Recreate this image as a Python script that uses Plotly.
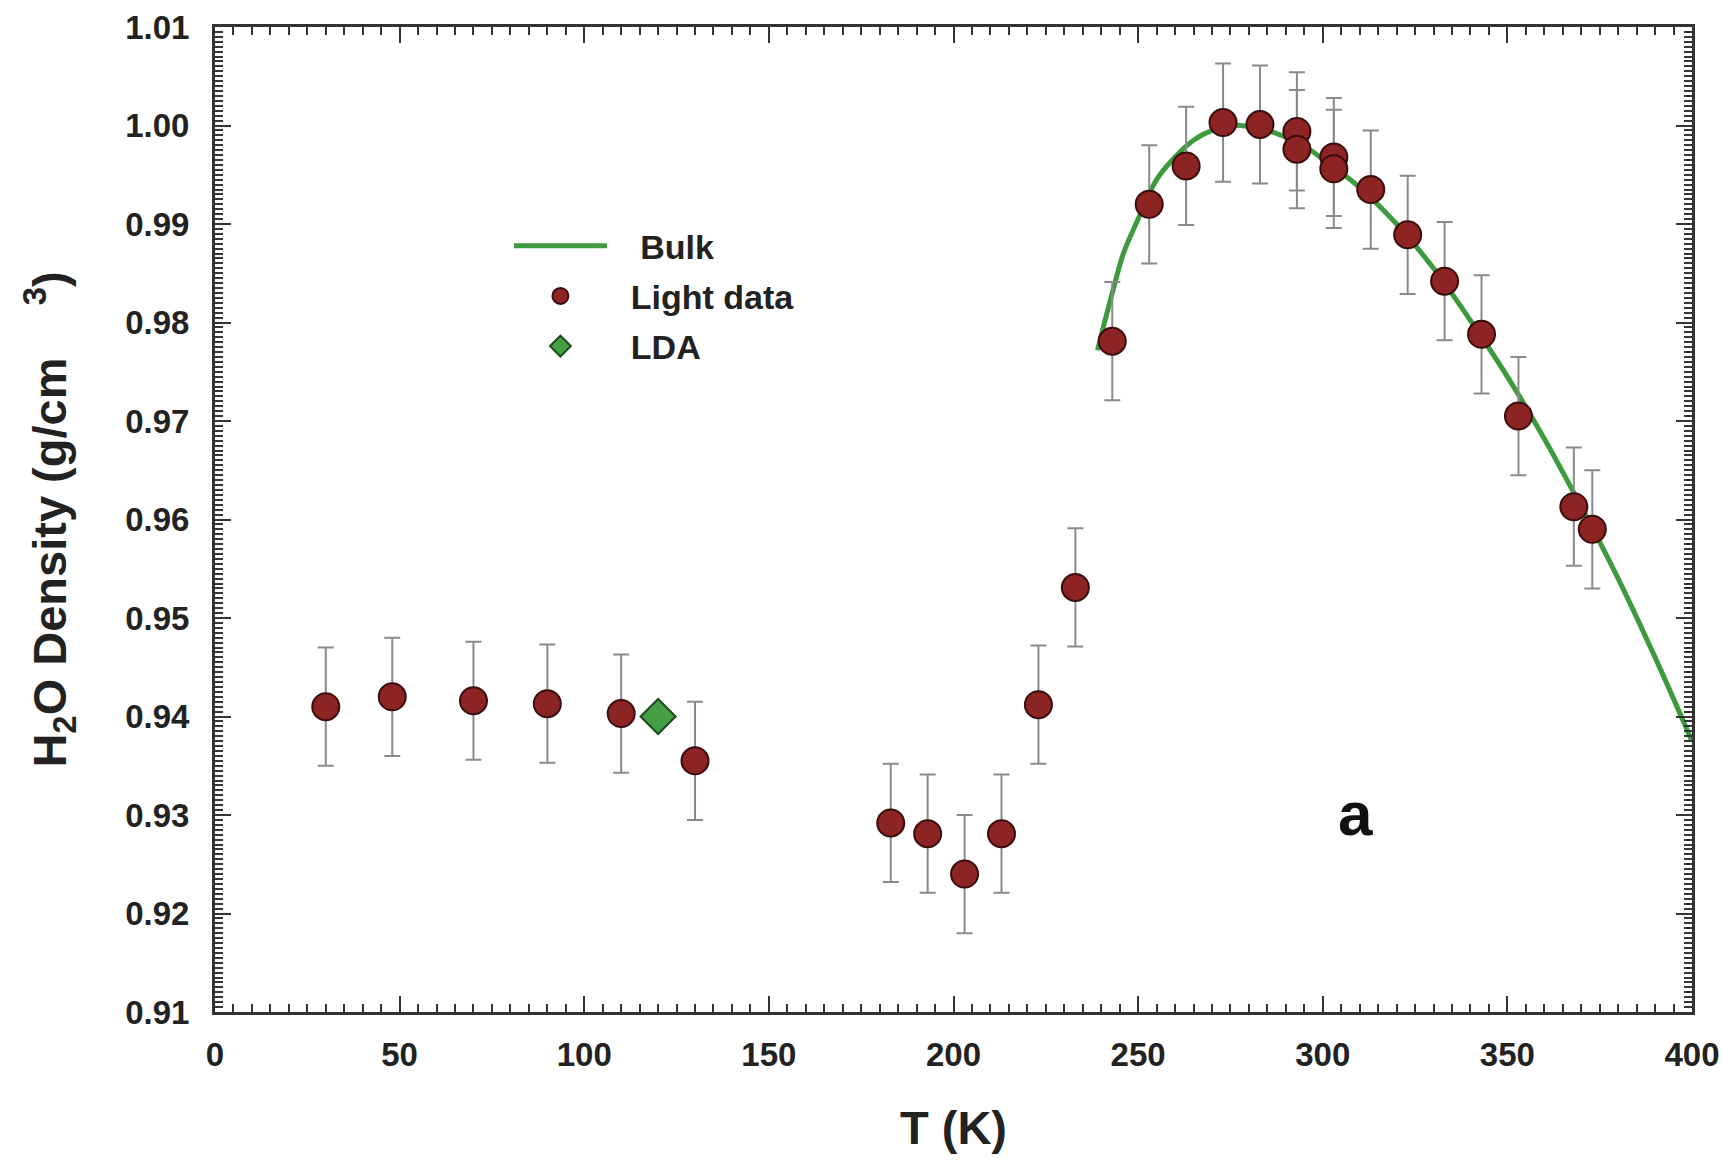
import plotly.graph_objects as go

# Light-scattering density of confined H2O versus temperature
T_light = [30, 48, 70, 90, 110, 130, 183, 193, 203, 213, 223, 233, 243, 253,
           263, 273, 283, 293, 293, 303, 303, 313, 323, 333, 343, 353, 368, 373]
rho_light = [0.9410, 0.9420, 0.9416, 0.9413, 0.9403, 0.9355, 0.9292, 0.9281,
             0.9240, 0.9281, 0.9412, 0.9531, 0.9781, 0.9920, 0.9959, 1.0003,
             1.0001, 0.9994, 0.9976, 0.9968, 0.9956, 0.9935, 0.9889, 0.9842,
             0.9788, 0.9705, 0.9613, 0.9590]
rho_err = [0.006] * len(T_light)

# Low-density amorphous ice
T_lda = [120]
rho_lda = [0.9400]

# Bulk water density curve
T_bulk = [239, 243, 246, 250, 255, 260, 265, 270, 275, 280, 285, 290, 295, 300,
          310, 320, 330, 340, 350, 360, 370, 380, 390, 400]
rho_bulk = [0.9772, 0.9830, 0.9870, 0.9905, 0.9945, 0.9968, 0.9985, 0.9995,
            1.0000, 0.9999, 0.9995, 0.9988, 0.9979, 0.9966, 0.9937, 0.9900,
            0.9855, 0.9802, 0.9745, 0.9682, 0.9613, 0.9540, 0.9460, 0.9375]

FONT = "Liberation Sans, Arial, sans-serif"
INK = "#222222"
NB = "\u00a0"

fig = go.Figure()

fig.add_trace(go.Scatter(
    x=T_bulk, y=rho_bulk, mode="lines", name=NB * 3 + "Bulk", legendgroup="a",
    line=dict(color="#3d9b3d", width=5, shape="spline"),
))

fig.add_trace(go.Scatter(
    x=T_light, y=rho_light, mode="markers", name=NB * 2 + "Light data", legendgroup="b",
    error_y=dict(type="data", array=rho_err, color="#8a8a8a", thickness=2, width=8),
    marker=dict(symbol="circle", size=27, color="#8c2424",
                line=dict(color="#3a0c0c", width=2)),
))

fig.add_trace(go.Scatter(
    x=T_lda, y=rho_lda, mode="markers", name=NB * 2 + "LDA", legendgroup="c",
    marker=dict(symbol="diamond", size=27, color="#45a045",
                line=dict(color="#1e4a1e", width=2)),
))

fig.add_annotation(
    x=309, y=0.9302, xref="x", yref="y", text="<b>a</b>", showarrow=False,
    font=dict(family=FONT, size=62, color="#111111"),
)

axis_common = dict(
    showline=True, linewidth=3, linecolor="#333333", mirror="ticks",
    ticks="inside", tickwidth=2, tickcolor="#333333", ticklen=16,
    showgrid=False, zeroline=False, automargin=False,
    tickfont=dict(family=FONT, size=33, color=INK, weight="bold"),
)

fig.update_xaxes(
    range=[0, 400], tick0=0, dtick=50, ticklabelstandoff=11,
    minor=dict(dtick=5, ticks="inside", ticklen=8, tickwidth=2, tickcolor="#333333"),
    title=dict(text="T (K)", standoff=40,
               font=dict(family=FONT, size=47, color=INK, weight="bold")),
    **axis_common,
)
fig.update_yaxes(
    range=[0.91, 1.01], tick0=0.91, dtick=0.01, tickformat=".2f", ticklabelstandoff=16,
    minor=dict(dtick=0.0005, ticks="inside", ticklen=8, tickwidth=2, tickcolor="#333333"),
    title=dict(text="H<sub>2</sub>O Density (g/cm&nbsp;&nbsp;&nbsp;&nbsp;<sup>3</sup>)", standoff=44,
               font=dict(family=FONT, size=47, color=INK, weight="bold")),
    **axis_common,
)

fig.update_layout(
    width=1722, height=1160,
    margin=dict(l=215, r=30, t=27, b=148),
    paper_bgcolor="white", plot_bgcolor="white",
    showlegend=True,
    legend=dict(
        x=0.199, y=0.807, xanchor="left", yanchor="top",
        bgcolor="rgba(0,0,0,0)", borderwidth=0,
        font=dict(family=FONT, size=34, color=INK, weight="bold"),
        tracegroupgap=3, itemwidth=93,
    ),
)

fig.write_html("out.html")
